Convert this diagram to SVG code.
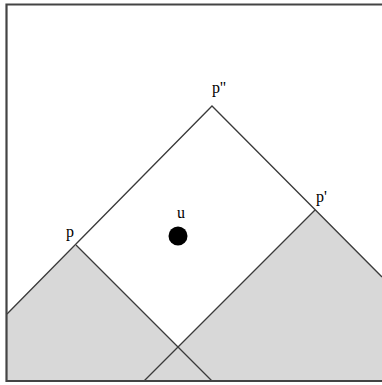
<svg xmlns="http://www.w3.org/2000/svg" width="382" height="385" viewBox="0 0 382 385">
<style>
.shade{fill:#d8d8d8;stroke:none}
.ln{stroke:#3a3a3a;stroke-width:1.3;fill:none}
.frame{stroke:#444;stroke-width:2.2;fill:none}
.lbl{font-family:"Liberation Serif",serif;font-size:16px;fill:#000}
</style>
<rect width="382" height="385" fill="#fff"/>
<g id="shading">
<polygon class="shade" points="7,314 76,245 212,381 7,381"/>
<polygon class="shade" points="144,381 315,210 382,277 382,381"/>
</g>
<g id="connectors">
<path class="ln" d="M7,314 L212,106 L382,277"/>
<path class="ln" d="M76,245 L212,381"/>
<path class="ln" d="M315,210 L144,381"/>
</g>
<path class="frame" d="M382,4.5 H6.5 V381 H382"/>
<g id="p2"><text class="lbl" x="212" y="93">p''</text></g>
<g id="p1"><text class="lbl" x="316" y="202">p'</text></g>
<g id="p"><text class="lbl" x="66" y="237">p</text></g>
<g id="u"><circle cx="178" cy="236" r="9.5" fill="#000"/><text class="lbl" x="177" y="218">u</text></g>
</svg>
